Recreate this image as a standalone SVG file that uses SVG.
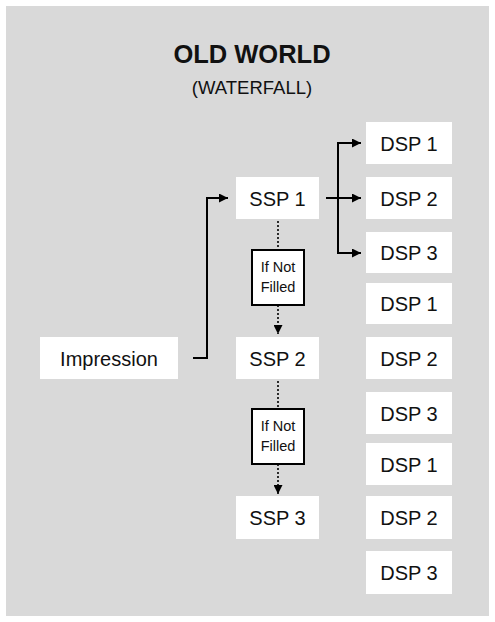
<svg xmlns="http://www.w3.org/2000/svg" width="495" height="622" viewBox="0 0 495 622">
<style>
.bg{fill:#d9d9d9}
.box{fill:#ffffff}
.cond{fill:#ffffff;stroke:#000;stroke-width:2}
.t{font-family:"Liberation Sans",Arial,sans-serif;font-size:20px;fill:#111;text-anchor:middle}
.s{font-family:"Liberation Sans",Arial,sans-serif;font-size:14.5px;fill:#111;text-anchor:middle}
.title{font-family:"Liberation Sans",Arial,sans-serif;font-size:25.5px;font-weight:bold;fill:#111;text-anchor:middle}
.sub{font-family:"Liberation Sans",Arial,sans-serif;font-size:18.5px;fill:#111;text-anchor:middle}
.line{fill:none;stroke:#000;stroke-width:2}
.dot{fill:none;stroke:#000;stroke-width:1.6;stroke-dasharray:2,2}
</style>
<defs>
<marker id="ah" viewBox="0 0 10 10" refX="10" refY="5" markerWidth="9" markerHeight="9" markerUnits="userSpaceOnUse" orient="auto">
<path d="M0,0 L10,5 L0,10 z" fill="#000"/>
</marker>
</defs>
<rect class="bg" x="6" y="6" width="483" height="610"/>
<g id="title">
<text class="title" x="252" y="63">OLD WORLD</text>
<text class="sub" x="252" y="94">(WATERFALL)</text>
</g>
<g id="connectors">
<path class="line" d="M193,358 H207 V198 H228" marker-end="url(#ah)"/>
<path class="line" d="M326,198 H361" marker-end="url(#ah)"/>
<path class="line" d="M361,143 H338 V253 H361" marker-end="url(#ah)"/>
<path class="line" d="M338,143 H361" marker-end="url(#ah)"/>
<path class="dot" d="M278,221 V250"/>
<path class="dot" d="M278,305 V334" marker-end="url(#ah)"/>
<path class="dot" d="M278,381 V409"/>
<path class="dot" d="M278,464 V494" marker-end="url(#ah)"/>
</g>
<g id="impression"><rect class="box" x="40" y="337" width="138" height="42"/><text class="t" x="109" y="366">Impression</text></g>
<g id="ssp1"><rect class="box" x="236" y="177" width="83" height="42"/><text class="t" x="277.5" y="206">SSP 1</text></g>
<g id="ssp2"><rect class="box" x="236" y="337" width="83" height="42"/><text class="t" x="277.5" y="366">SSP 2</text></g>
<g id="ssp3"><rect class="box" x="236" y="496" width="83" height="43"/><text class="t" x="277.5" y="525">SSP 3</text></g>
<g id="cond1"><rect class="cond" x="252" y="250" width="52" height="55"/><text class="s" x="278" y="272">If Not</text><text class="s" x="278" y="292">Filled</text></g>
<g id="cond2"><rect class="cond" x="252" y="409" width="52" height="55"/><text class="s" x="278" y="431">If Not</text><text class="s" x="278" y="451">Filled</text></g>
<g id="dsp1a"><rect class="box" x="366" y="122" width="86" height="42"/><text class="t" x="409" y="151">DSP 1</text></g>
<g id="dsp2a"><rect class="box" x="366" y="177" width="86" height="42"/><text class="t" x="409" y="206">DSP 2</text></g>
<g id="dsp3a"><rect class="box" x="366" y="232" width="86" height="41"/><text class="t" x="409" y="260">DSP 3</text></g>
<g id="dsp1b"><rect class="box" x="366" y="283" width="86" height="41"/><text class="t" x="409" y="311">DSP 1</text></g>
<g id="dsp2b"><rect class="box" x="366" y="337" width="86" height="42"/><text class="t" x="409" y="366">DSP 2</text></g>
<g id="dsp3b"><rect class="box" x="366" y="392" width="86" height="42"/><text class="t" x="409" y="421">DSP 3</text></g>
<g id="dsp1c"><rect class="box" x="366" y="443" width="86" height="42"/><text class="t" x="409" y="472">DSP 1</text></g>
<g id="dsp2c"><rect class="box" x="366" y="496" width="86" height="43"/><text class="t" x="409" y="525">DSP 2</text></g>
<g id="dsp3c"><rect class="box" x="366" y="551" width="86" height="43"/><text class="t" x="409" y="580">DSP 3</text></g>
</svg>
